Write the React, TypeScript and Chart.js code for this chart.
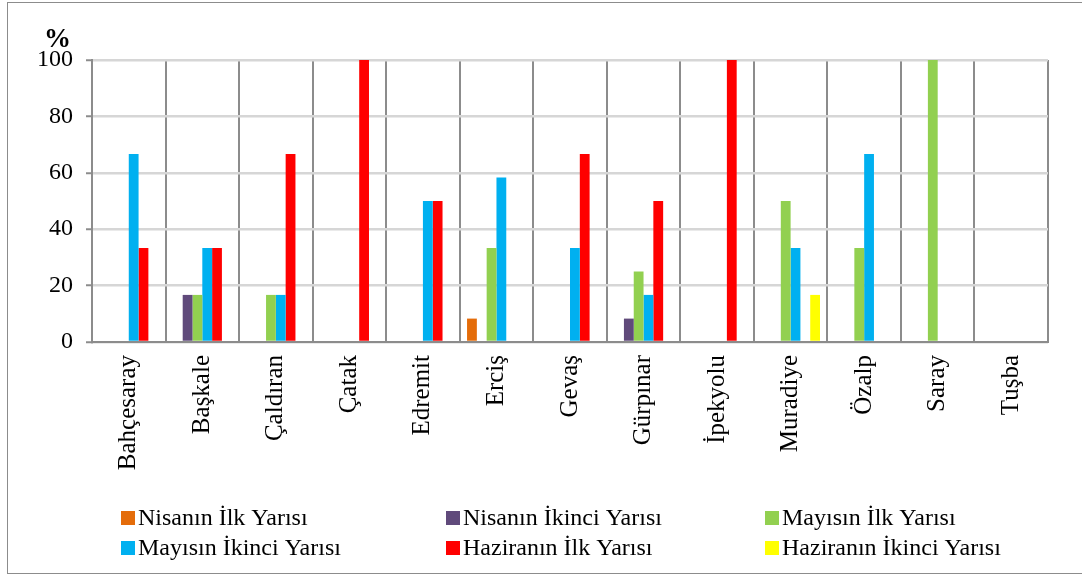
import React, { useEffect, useRef } from "react";
import { Chart, registerables } from "chart.js";

Chart.register(...registerables);

const categories = [
  "Bahçesaray", "Başkale", "Çaldıran", "Çatak", "Edremit", "Erciş", "Gevaş",
  "Gürpınar", "İpekyolu", "Muradiye", "Özalp", "Saray", "Tuşba",
];

const seriesNames = [
  "Nisanın İlk Yarısı",
  "Nisanın İkinci Yarısı",
  "Mayısın İlk Yarısı",
  "Mayısın İkinci Yarısı",
  "Haziranın İlk Yarısı",
  "Haziranın İkinci Yarısı",
];

const seriesColors = ["#E46C0A", "#604A7B", "#92D050", "#00B0F0", "#FF0000", "#FFFF00"];

const nisanIlk = [0, 0, 0, 0, 0, 8.3, 0, 0, 0, 0, 0, 0, 0];
const nisanIkinci = [0, 16.7, 0, 0, 0, 0, 0, 8.3, 0, 0, 0, 0, 0];
const mayisIlk = [0, 16.7, 16.7, 0, 0, 33.3, 0, 25, 0, 50, 33.3, 100, 0];
const mayisIkinci = [66.7, 33.3, 16.7, 0, 50, 58.3, 33.3, 16.7, 0, 33.3, 66.7, 0, 0];
const haziranIlk = [33.3, 33.3, 66.7, 100, 50, 0, 66.7, 50, 100, 0, 0, 0, 0];
const haziranIkinci = [0, 0, 0, 0, 0, 0, 0, 0, 0, 16.7, 0, 0, 0];

const yTicks = [0, 20, 40, 60, 80, 100];

const seriesValues = [nisanIlk, nisanIkinci, mayisIlk, mayisIkinci, haziranIlk, haziranIkinci];

const SERIF = '"Liberation Serif", "Times New Roman", serif';

const legendPlugin = {
  id: "gridLegend",
  afterDraw(chart: any) {
    const ctx = chart.ctx;
    ctx.save();
    const cols = [121, 446, 765];
    const rows = [525, 555];
    ctx.font = `24px ${SERIF}`;
    ctx.textBaseline = "alphabetic";
    ctx.textAlign = "left";
    seriesNames.forEach((name, i) => {
      const x = cols[i % 3];
      const y = rows[Math.floor(i / 3)];
      ctx.fillStyle = seriesColors[i];
      ctx.fillRect(x, y - 14, 14, 14);
      ctx.fillStyle = "#000";
      ctx.fillText(name, x + 17, y);
    });
    ctx.font = `bold 27px ${SERIF}`;
    ctx.fillText("%", 44, 47);
    ctx.restore();
  },
};

export default function App() {
  const ref = useRef<HTMLCanvasElement>(null);

  useEffect(() => {
    if (!ref.current) return;
    const chart = new Chart(ref.current, {
      type: "bar",
      data: {
        labels: categories,
        datasets: seriesNames.map((name, i) => ({
          label: name,
          data: seriesValues[i],
          backgroundColor: seriesColors[i],
          borderWidth: 0,
          categoryPercentage: 0.8,
          barPercentage: 1,
        })),
      },
      options: {
        responsive: false,
        animation: false,
        devicePixelRatio: 1,
        layout: { padding: { top: 60, right: 34, bottom: 0, left: 0 } },
        plugins: {
          legend: { display: false },
          tooltip: { enabled: false },
        },
        scales: {
          x: {
            z: 0,
            grid: {
              offset: true,
              color: "#8c8c8c",
              lineWidth: 2,
              tickLength: 0,
              drawTicks: false,
            },
            border: { color: "#8c8c8c", width: 2 },
            ticks: {
              autoSkip: false,
              minRotation: 90,
              maxRotation: 90,
              padding: 13,
              color: "#000",
              font: { family: SERIF, size: 25 },
            },
            afterFit(scale: any) {
              scale.height = 234;
            },
          },
          y: {
            z: -1,
            min: 0,
            max: 100,
            afterBuildTicks(scale: any) {
              scale.ticks = yTicks.map((v) => ({ value: v }));
            },
            grid: {
              color: "#d6d6d6",
              lineWidth: 2.5,
              tickLength: 6,
              tickColor: "#8c8c8c",
              tickWidth: 2,
            },
            border: { color: "#8c8c8c", width: 2 },
            ticks: {
              padding: 13,
              color: "#000",
              font: { family: SERIF, size: 24 },
            },
            afterFit(scale: any) {
              scale.width = 92;
            },
          },
        },
      },
      plugins: [legendPlugin],
    });
    return () => chart.destroy();
  }, []);

  return (
    <div style={{ position: "absolute", left: 0, top: 0, width: 1082, height: 576, background: "#fff", overflow: "hidden" }}>
      <div
        style={{
          position: "absolute",
          left: 7,
          top: 2,
          width: 1090,
          height: 572,
          border: "1px solid #8c8c8c",
          boxSizing: "border-box",
        }}
      />
      <canvas ref={ref} width={1082} height={576} style={{ position: "absolute", left: 0, top: 0 }} />
    </div>
  );
}
